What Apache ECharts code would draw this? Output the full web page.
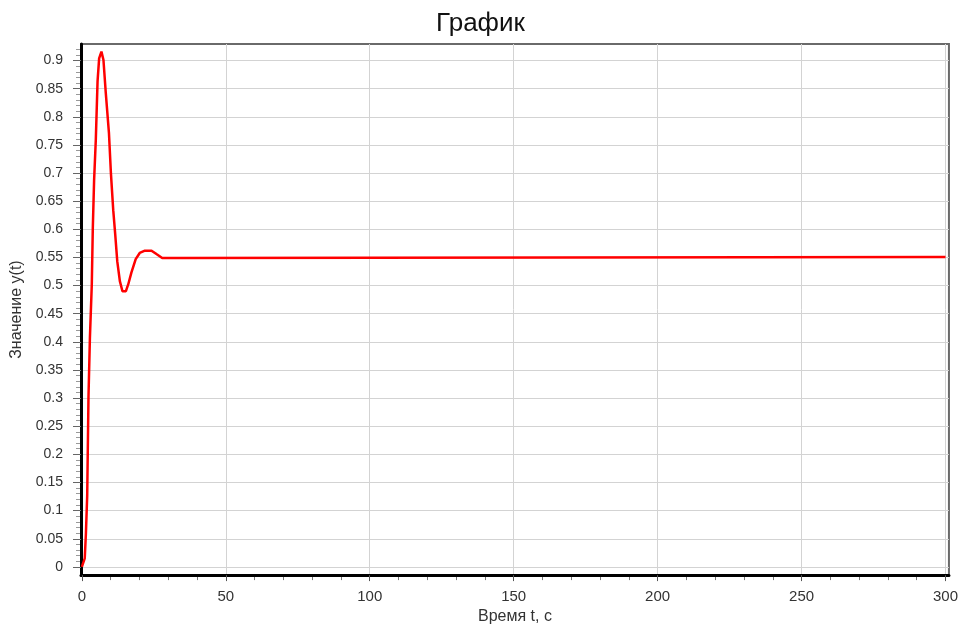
<!DOCTYPE html>
<html>
<head>
<meta charset="utf-8">
<script src="https://cdn.jsdelivr.net/npm/echarts@6/dist/echarts.min.js"></script>
<style>html,body{margin:0;padding:0;background:#fff}#c{width:961px;height:630px}</style>
</head>
<body>
<div id="c"></div>
<script>
// Time samples (s) and response values y(t)
const timeValues = [0, 0.35, 1.0, 1.4, 1.85, 2.3, 2.8, 3.45, 3.8, 4.25, 4.85, 5.45, 6.0, 6.8, 7.5, 8.3, 9.4, 10.1, 10.9, 11.6, 12.3, 13.2, 14.1, 15.3, 16.1, 17.2, 18.7, 20.1, 21.9, 24.2, 25.9, 27.9, 34.0, 34.6, 300];
const yValues    = [0, 0, 0.015, 0.059, 0.126, 0.302, 0.408, 0.502, 0.602, 0.687, 0.76, 0.863, 0.904, 0.916, 0.901, 0.843, 0.772, 0.699, 0.634, 0.59, 0.543, 0.508, 0.49, 0.49, 0.502, 0.523, 0.547, 0.558, 0.562, 0.562, 0.556, 0.549, 0.549, 0.551, 0.551];
// Tick label values
const xTickLabels = [0, 50, 100, 150, 200, 250, 300];
const xMinorTicks = [0, 10, 20, 30, 40, 50, 60, 70, 80, 90, 100, 110, 120, 130, 140, 150, 160, 170, 180, 190, 200, 210, 220, 230, 240, 250, 260, 270, 280, 290, 300];
const yTickLabels = [0, 0.05, 0.1, 0.15, 0.2, 0.25, 0.3, 0.35, 0.4, 0.45, 0.5, 0.55, 0.6, 0.65, 0.7, 0.75, 0.8, 0.85, 0.9];
const yMinorTicks = [];
for (let i = 0; i <= 92; i++) yMinorTicks.push(+(i * 0.01).toFixed(2));

const data = timeValues.map((t, i) => [t, yValues[i]]);
const labelFont = 'Liberation Sans';
const chart = echarts.init(document.getElementById('c'), null, {renderer: 'canvas'});
chart.setOption({
  animation: false,
  backgroundColor: '#fff',
  title: {
    text: 'График', left: 'center', top: 6,
    textStyle: {fontFamily: labelFont, fontSize: 26, fontWeight: 'normal', color: '#111'}
  },
  grid: {left: 81, right: 11, top: 44, bottom: 50, show: true, borderColor: '#6a6a6a', borderWidth: 2, backgroundColor: '#fff'},
  xAxis: [{
    type: 'value', min: -0.3, max: 301.2, position: 'bottom', z: 5,
    name: 'Время t, с', nameLocation: 'middle', nameGap: 25,
    nameTextStyle: {fontFamily: labelFont, fontSize: 16, color: '#333'},
    axisLine: {show: true, onZero: false, lineStyle: {color: '#000', width: 3}},
    axisTick: {show: true, length: 6, customValues: xTickLabels, lineStyle: {color: '#555'}},
    axisLabel: {customValues: xTickLabels, fontFamily: labelFont, fontSize: 15, color: '#333', margin: 14},
    splitLine: {show: true, lineStyle: {color: '#d3d3d3', width: 1}}
  }, {
    type: 'value', min: -0.3, max: 301.2, position: 'bottom', z: 1,
    axisLine: {show: false, onZero: false},
    axisTick: {show: true, length: 5, customValues: xMinorTicks, lineStyle: {color: '#777'}},
    axisLabel: {show: false},
    splitLine: {show: false}
  }],
  yAxis: [{
    type: 'value', min: -0.0146, max: 0.9294, position: 'left', z: 5,
    name: 'Значение y(t)', nameLocation: 'middle', nameGap: 52,
    nameTextStyle: {fontFamily: labelFont, fontSize: 16, color: '#333'},
    axisLine: {show: true, onZero: false, lineStyle: {color: '#000', width: 3}},
    axisTick: {show: true, length: 8, customValues: yTickLabels, lineStyle: {color: '#666'}},
    axisLabel: {customValues: yTickLabels, fontFamily: labelFont, fontSize: 14, color: '#333', margin: 18,
      formatter: v => String(+v.toFixed(2))},
    splitLine: {show: true, lineStyle: {color: '#d3d3d3', width: 1}}
  }, {
    type: 'value', min: -0.0146, max: 0.9294, position: 'left', z: 1,
    axisLine: {show: false, onZero: false},
    axisTick: {show: true, length: 5, customValues: yMinorTicks, lineStyle: {color: '#999'}},
    axisLabel: {show: false},
    splitLine: {show: false}
  }],
  series: [{
    type: 'line', data: data, xAxisIndex: 0, yAxisIndex: 0,
    showSymbol: false, smooth: false, z: 10,
    lineStyle: {color: '#ff0000', width: 2.5},
    itemStyle: {color: '#ff0000'}
  }]
});
</script>
</body>
</html>
